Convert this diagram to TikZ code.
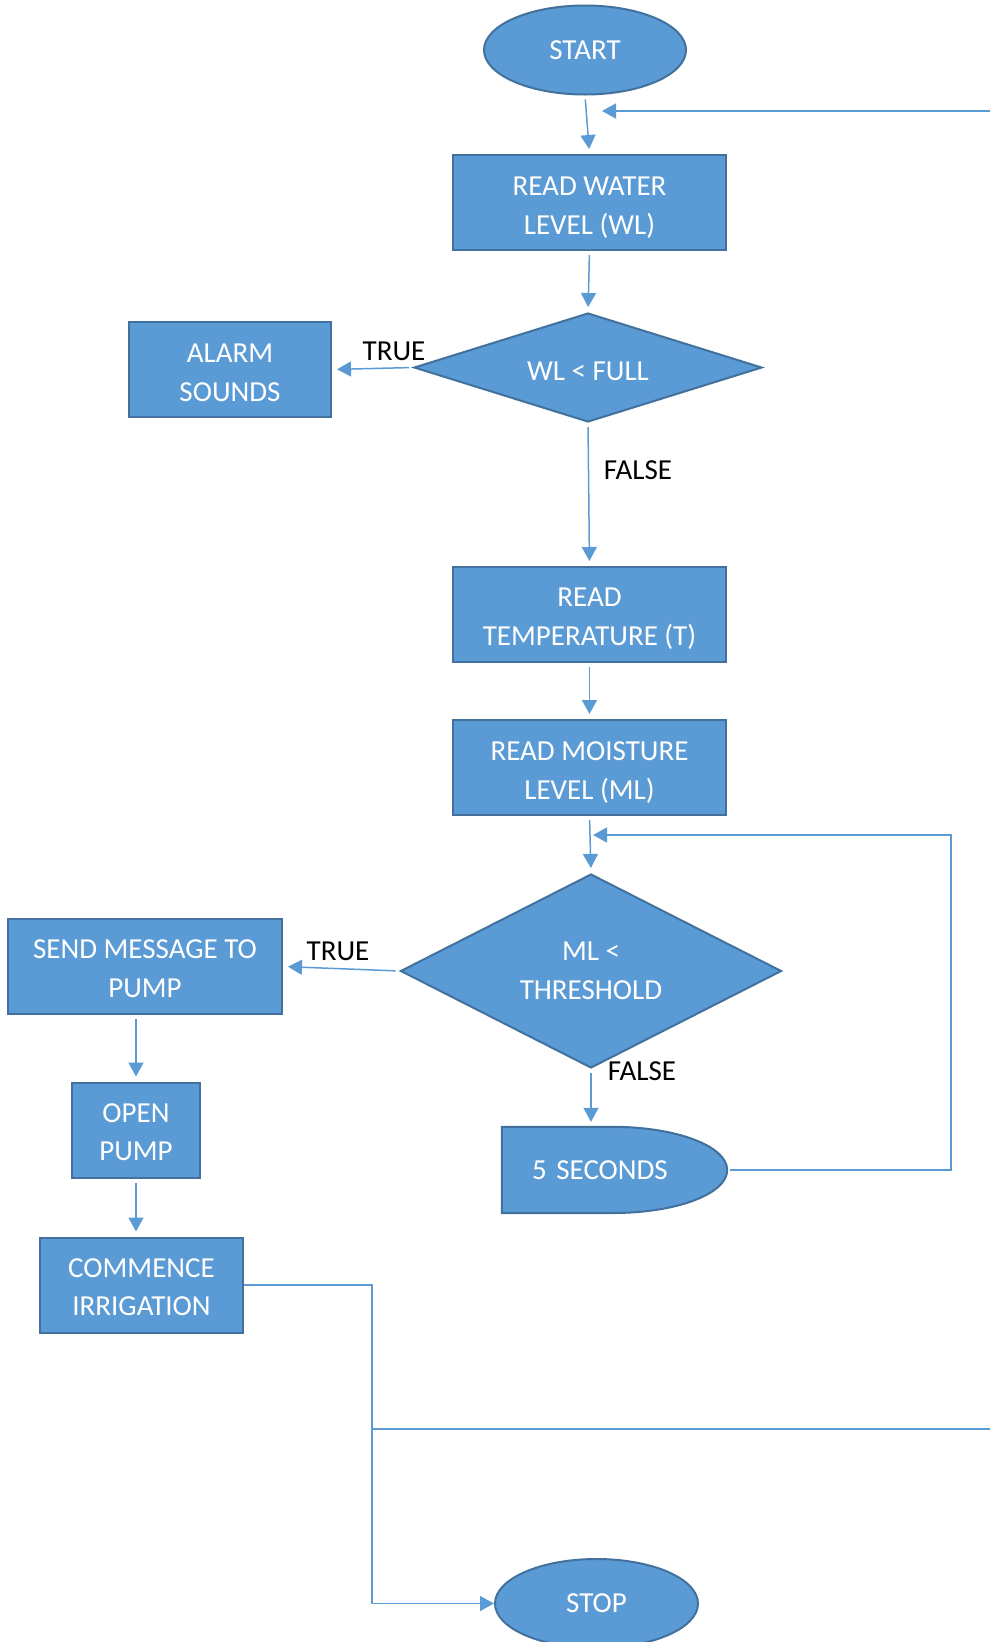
\documentclass[tikz,border=0pt]{standalone}
\usepackage{fontspec}
\setmainfont{Carlito}
\usetikzlibrary{arrows.meta}
\usetikzlibrary{shapes.geometric}
\usetikzlibrary{backgrounds}
\definecolor{flowblue}{HTML}{5B9BD5}
\definecolor{flowedge}{HTML}{41719C}
\newcommand{\padtop}[1]{\rule{0pt}{#1pt}}
\tikzstyle{terminal} = [ellipse, draw=flowedge, line width=2pt, fill=flowblue, text=white, minimum width=202pt, minimum height=89pt]
\tikzstyle{process} = [rectangle, draw=flowedge, line width=2pt, fill=flowblue, text=white, align=center, minimum height=95pt]
\tikzstyle{decision} = [diamond, draw=flowedge, line width=2pt, fill=flowblue, text=white, align=center, inner sep=0pt]
\tikzstyle{delay} = [rectangle, text=white, align=left, inner xsep=30pt, text width=165pt, minimum height=86pt]
\tikzstyle{flow} = [draw=flowblue, line width=1.5pt, -{Triangle[length=14pt,width=15pt]}, shorten <=4pt, shorten >=5pt]
\tikzstyle{loopline} = [draw=flowblue, line width=1.5pt, -{Triangle[length=14pt,width=15pt]}]
\tikzstyle{flowlabel} = [text=black]

\begin{document}
\begin{tikzpicture}[x=1pt, y=-1pt, font=\fontsize{29}{38.8}\selectfont]
		\useasboundingbox (0,0) rectangle (990,1642);
		\clip (0,0) rectangle (990,1642);
		% main column
		\node[terminal] (start) at (585,50) {START};
		\node[process, minimum width=273pt] (water) at (589.5,202.5) {\padtop{29}READ WATER\\LEVEL (WL)};
		\node[decision, aspect=3.2, minimum width=348pt, minimum height=109pt] (wlfull) at (588,367.5) {\padtop{26}WL < FULL};
		\node[process, minimum width=202pt] (alarm) at (230,369.5) {\padtop{25}ALARM\\SOUNDS};
		\node[process, minimum width=273pt] (temp) at (589.5,614.5) {\padtop{27}READ\\TEMPERATURE (T)};
		\node[process, minimum width=273pt] (moist) at (589.5,767.5) {\padtop{29}READ MOISTURE\\LEVEL (ML)};
		\node[decision, aspect=2, minimum width=381pt, minimum height=194pt] (mlthr) at (591,971) {ML <\\THRESHOLD};
		% delay box, outline drawn from its anchors
		\node[delay] (wait) at (614.5,1170) {5 SECONDS};
		\begin{pgfonlayer}{background}
			\draw[draw=flowedge, line width=2pt, fill=flowblue] (wait.south west) -- (wait.north west) -- ++(111,0)
				.. controls +(63,0) and +(0,-24) .. (wait.east)
				.. controls +(0,24) and +(63,0) .. ++(-114,43) -- cycle;
		\end{pgfonlayer}
		% pump branch
		\node[process, minimum width=274pt] (send) at (145,966.5) {\padtop{23}SEND MESSAGE TO\\PUMP};
		\node[process, minimum width=128pt] (openp) at (136,1130) {\padtop{23}OPEN\\PUMP};
		\node[process, minimum width=203pt] (comm) at (141.5,1285) {\padtop{23}COMMENCE\\IRRIGATION};
		\node[terminal, minimum width=203pt] (stop) at (596.5,1603.5) {STOP};
		% branch labels
		\node[flowlabel] (wltrue) at (394,351) {TRUE};
		\node[flowlabel] (wlfalse) at (638,470) {FALSE};
		\node[flowlabel] (mltrue) at (338,951) {TRUE};
		\node[flowlabel] (mlfalse) at (642,1071) {FALSE};
		% loop points
		\coordinate (wlin) at (602,111);
		\coordinate (mlin) at (593,835);
		\coordinate (join) at (372,1429);
		% connectors
		\draw[flow] (start.south) -- (water.north);
		\draw[flow] (water.south) -- (wlfull.north);
		\draw[flow] (wlfull.west) -- (alarm.east);
		\draw[flow] (wlfull.south) -- (temp.north);
		\draw[flow] (temp.south) -- (moist.north);
		\draw[flow] (moist.south) -- (mlthr.north);
		\draw[flow] (mlthr.west) -- (send.east);
		\draw[flow] (mlthr.south) -- (wait.north -| mlthr.south);
		\draw[flow] (openp.north |- send.south) -- (openp.north);
		\draw[flow] (openp.south) -- (comm.north -| openp.south);
		\draw[loopline, shorten <=3pt] (wait.east) -- (951,1170) |- (mlin);
		\draw[loopline] (comm.east) -| (join) |- (stop.west);
		\draw[loopline] (join) -- (1010,1429) |- (wlin);
	\end{tikzpicture}
\end{document}
